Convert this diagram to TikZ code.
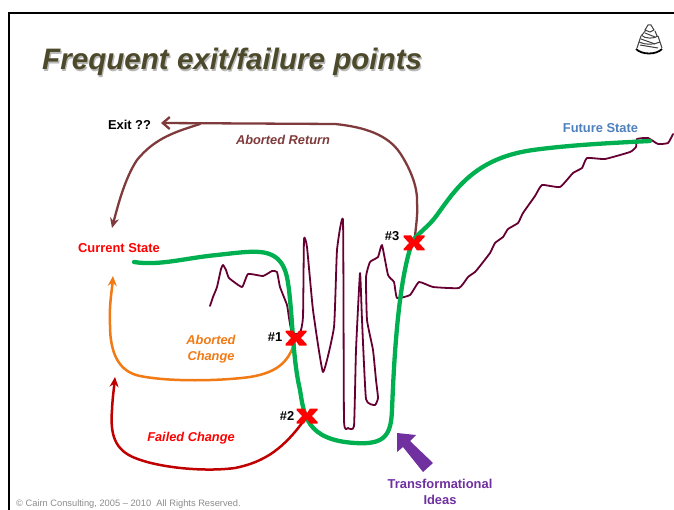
\documentclass[tikz,border=0pt]{standalone}
\usepackage{fontspec}
\setmainfont{Liberation Sans}
\usetikzlibrary{arrows.meta}
\definecolor{titlecol}{HTML}{4D4A2C}
\definecolor{greenline}{HTML}{00B050}
\definecolor{wig}{HTML}{660033}
\definecolor{brownline}{HTML}{7F3B3B}
\definecolor{orangeline}{HTML}{F27A14}
\definecolor{redline}{HTML}{C00000}
\definecolor{purp}{HTML}{7030A0}
\definecolor{futureblue}{HTML}{4F81BD}
\tikzset{
  lab/.style={font=\fontsize{12.9}{16}\selectfont\bfseries,inner sep=0pt,align=center},
  ilab/.style={font=\fontsize{12.8}{15.5}\selectfont\bfseries\itshape,inner sep=0pt,align=center},
  curve/.style={line cap=round,line join=round},
  tip/.style={-{Stealth[length=10pt,width=9pt]}},
  xmark/.pic={\fill[red] (-10.5,-7.5)--(-3,-7.5)--(0,-3)--(3,-7.5)--(10.5,-7.5)--(10.5,-6)--(5,0)--(10.5,6)--(10.5,7.5)--(3,7.5)--(0,3)--(-3,7.5)--(-10.5,7.5)--(-10.5,6)--(-5,0)--(-10.5,-6)--cycle;}
}
\begin{document}
\begin{tikzpicture}[x=1pt,y=-1pt]
\useasboundingbox (0,0) rectangle (674,510);
\fill[white] (0,0) rectangle (674,510);
% frame
\draw[line width=2pt,black] (9,510)--(9,13)--(674,13);
% title
\node[anchor=base west,inner sep=0pt,text=black!28,font=\fontsize{29.6}{30}\selectfont\bfseries\itshape] at (43.2,71.2) {Frequent exit/failure points};
\node[anchor=base west,inner sep=0pt,text=titlecol,font=\fontsize{29.6}{30}\selectfont\bfseries\itshape] (title) at (42,70) {Frequent exit/failure points};
% cairn icon
\begin{scope}[line width=1pt,black!75]
\draw (648,25)--(645,30)--(650,32)--(654,30)--(651,25)--cycle;
\draw (642,35)--(646,30) (655,31)--(657,36);
\draw (641,35) .. controls (645,39) and (654,39) .. (658,36);
\draw (641,36)--(639,42) (658,36)--(660,42);
\draw (639,42) .. controls (645,45) and (654,45) .. (660,42);
\draw (639,42)--(637,48) (660,42)--(662,48);
\draw[line width=1.8pt,black] (636,49) .. controls (642,55) and (656,55) .. (662,49);
\draw (641,39)--(655,44) (640,45)--(658,48) (645,33)--(655,37);
\end{scope}
% wiggly line
\draw[wig,line width=1.8pt,curve] plot[smooth,tension=0.25] coordinates {(210,306)(213,297)(217,287)(221,269)(223,265)(226,270)(229,278)(242,287)(248,274)(263,276)(272,271)(277,272)(280,287)(287,305)(289,318)(292,333)(300,333)(303,317)(304,239)(307,247)(313,310)(323,372)(334,327)(337,250)(343,221)(344,420)(348,428)(354,426)(356,350)(360,273)(362,320)(366,399)(375,405)(378,398)(376,380)(373,350)(367,320)(366,277)(370,262)(378,257)(382,245)(388,275)(394,282)(397,298)(410,295)(419,282)(433,287)(459,288)(468,277)(475,272)(480,266)(490,253)(495,243)(503,237)(508,229)(518,223)(523,213)(535,196)(542,185)(560,187)(573,173)(582,168)(587,158)(605,159)(630,152)(636,147)(637,139)(648,138)(658,144)(668,143)(673,134)};
% coordinates
\coordinate (x1) at (296,338);
\coordinate (x2) at (307,416);
\coordinate (x3) at (414,243);
\coordinate (exittip) at (161,123);
\coordinate (branch) at (200,124);
\coordinate (ret) at (112,228);
\coordinate (cs) at (113,276);
\coordinate (cs2) at (115,377);
\coordinate (gs) at (134,262);
\coordinate (ge) at (650,141);
% brown
\draw[brownline,line width=2.3pt,curve,-{Straight Barb[length=7pt,width=12pt]}] (x3) .. controls (416,228) and (418,212) .. (417,203) .. controls (418,185) and (408,165) .. (400,153) .. controls (388,135) and (365,127) .. (335,124) -- (exittip);
\draw[brownline,line width=2.3pt,curve,tip] (branch) .. controls (175,132) and (155,138) .. (137,160) .. controls (125,178) and (118,205) .. (ret);
% orange
\draw[orangeline,line width=2.5pt,curve,tip] (x1) .. controls (290,360) and (280,372) .. (250,377) .. controls (220,381) and (170,382) .. (140,376) .. controls (120,372) and (110,355) .. (110,325) .. controls (109,305) and (112,290) .. (cs);
% red
\draw[redline,line width=2.5pt,curve,tip] (x2) .. controls (285,448) and (265,462) .. (235,468) .. controls (205,472) and (160,468) .. (135,458) .. controls (115,450) and (110,435) .. (112,410) .. controls (112.5,398) and (114,388) .. (cs2);
% green
\draw[greenline,line width=4.3pt,curve] (gs) .. controls (160,266) and (185,258) .. (217,255) .. controls (235,253) and (250,251) .. (260,252) .. controls (285,254) and (287,275) .. (289,290) .. controls (293,325) and (293,360) .. (300,390) .. controls (304,415) and (306,440) .. (355,443) .. controls (385,445) and (391,435) .. (392,410) .. controls (394,360) and (398,280) .. (413,240) .. controls (420,232) and (430,225) .. (437,215) .. controls (455,190) and (475,158) .. (533,150) .. controls (570,145) and (610,143) .. (ge);
% x marks
\pic at (x1) {xmark};
\pic at (x2) {xmark};
\pic at (x3) {xmark};
% purple arrow
\fill[purp] (397,433)--(416,435)--(410,441)--(433,463)--(423,472)--(403,447)--(397,452)--cycle;
% labels
\node[lab] (exit) at (129.5,124.5) {Exit ??};
\node[lab,text=red] (cur) at (119,248.5) {Current State};
\node[lab,text=futureblue] (fut) at (600.5,128.5) {Future State};
\node[ilab,text=brownline] (ar) at (283,139.5) {Aborted Return};
\node[ilab,text=orangeline] (ac) at (211,349.3) {Aborted\\Change};
\node[ilab,text=red] (fc) at (191,438.5) {Failed Change};
\node[lab] (n1) at (275,337.5) {\#1};
\node[lab] (n2) at (287,415.5) {\#2};
\node[lab] (n3) at (392,236.5) {\#3};
\node[lab,text=purp] (ti) at (440,491.5) {Transformational\\Ideas};
\node[anchor=base west,inner sep=0pt,text=black!45,font=\fontsize{9.3}{10}\selectfont] (copy) at (16,506) {© Cairn Consulting, 2005 – 2010\ \ All Rights Reserved.};
\end{tikzpicture}
\end{document}
